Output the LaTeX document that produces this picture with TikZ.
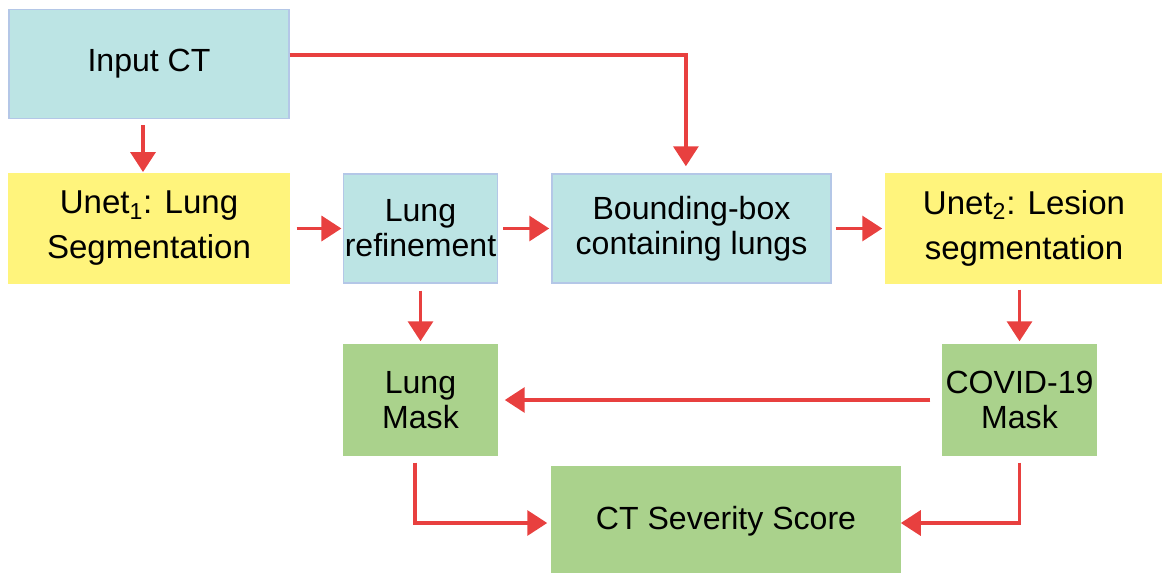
\documentclass[tikz,border=0pt]{standalone}
\usepackage{fontspec}
\setmainfont{Liberation Sans}
\usetikzlibrary{arrows.meta}

\definecolor{boxcyan}{HTML}{BCE4E4}
\definecolor{edgecyan}{HTML}{B4C7E7}
\definecolor{boxyellow}{HTML}{FFF47C}
\definecolor{boxgreen}{HTML}{AAD28C}
\definecolor{flowred}{HTML}{E8403F}

\tikzset{
  block/.style={rectangle, draw=#1, fill=#1, line width=1pt, align=center,
    inner sep=1pt, font=\fontsize{22.8}{24.8}\selectfont},
  cyanblock/.style={block=boxcyan, draw=edgecyan},
  yellowblock/.style={block=boxyellow, font=\fontsize{23.5}{32}\selectfont},
  greenblock/.style={block=boxgreen},
  flow/.style={draw=flowred, line width=2.8pt,
    -{Triangle[length=0.5cm, width=0.62cm]}}
}

\begin{document}
\begin{tikzpicture}[x=0.025cm, y=-0.025cm]
    \useasboundingbox (0,0) rectangle (1162,572);
    \clip (0,0) rectangle (1162,572);

    % Top row
    \node[cyanblock, minimum width=7cm, minimum height=2.725cm] (input) at (149,64) {Input CT};

    % Middle row
    \node[yellowblock, minimum width=7cm, minimum height=2.725cm] (unetA) at (149,228.5)
      {Unet\textsubscript{1}: Lung\\Segmentation};
    \node[cyanblock, minimum width=3.825cm, minimum height=2.725cm] (refine) at (420.5,228.5)
      {Lung\\refinement};
    \node[cyanblock, minimum width=6.975cm, minimum height=2.725cm] (bbox) at (691.5,228.5)
      {Bounding-box\\containing lungs};
    \node[yellowblock, minimum width=6.9cm, minimum height=2.725cm] (unetB) at (1024,228.5)
      {Unet\textsubscript{2}: Lesion\\segmentation};

    % Mask row
    \node[greenblock, minimum width=3.825cm, minimum height=2.75cm] (lungmask) at (420.5,400)
      {Lung\\Mask};
    \node[greenblock, minimum width=3.825cm, minimum height=2.75cm] (covid) at (1019.5,400)
      {COVID-19\\Mask};

    % Score
    \node[greenblock, minimum width=8.7cm, minimum height=2.7cm] (score) at (726,521)
      {CT Severity Score};

    % Arrows
    \draw[flow, shorten <=0.15cm, shorten >=0.03cm] ([xshift=-0.15cm]input.south) -- ([xshift=-0.15cm]unetA.north);
    \draw[flow, shorten >=0.175cm] ([yshift=0.225cm]input.east) -| ([xshift=-0.14cm]bbox.north);
    \draw[flow, shorten <=0.175cm, shorten >=0.03cm] (unetA.east) -- (refine.west);
    \draw[flow, shorten <=0.125cm, shorten >=0.05cm] (refine.east) -- (bbox.west);
    \draw[flow, shorten <=0.1cm, shorten >=0.075cm] (bbox.east) -- (unetB.west);
    \draw[flow, shorten <=0.175cm, shorten >=0.075cm] (refine.south) -- (lungmask.north);
    \draw[flow, shorten <=0.15cm, shorten >=0.075cm] (unetB.south -| covid.north) -- (covid.north);
    \draw[flow, shorten <=0.3cm, shorten >=0.175cm] (covid.west) -- (lungmask.east);
    \draw[flow, shorten <=0.175cm, shorten >=0.1cm] ([xshift=-0.14cm]lungmask.south) |- ([yshift=-0.05cm]score.west);
    \draw[flow, shorten <=0.175cm] (covid.south) |- ([yshift=-0.05cm]score.east);
\end{tikzpicture}
\end{document}
